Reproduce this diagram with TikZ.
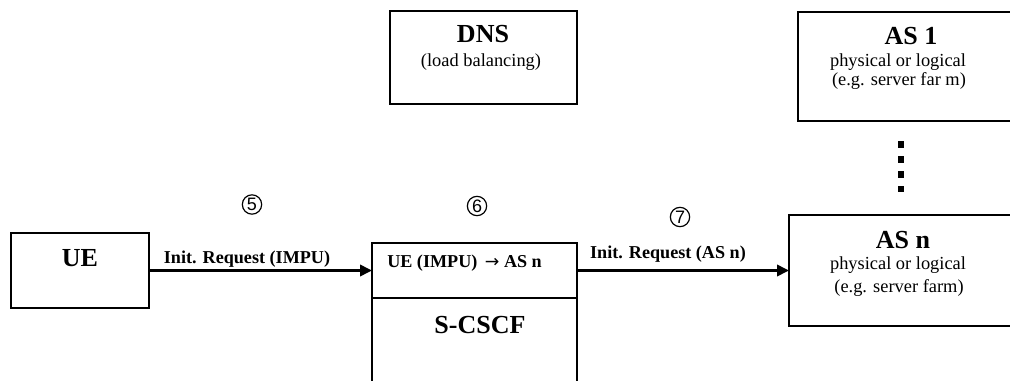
\documentclass[tikz,border=0pt]{standalone}
\usepackage{fontspec}
\setmainfont{Liberation Serif}
\setsansfont{Liberation Sans}
\newfontfamily\symfont{DejaVu Sans}
\usetikzlibrary{arrows.meta}
\begin{document}
\begin{tikzpicture}[x=0.75pt,y=-0.75pt,
  box/.style={draw,line width=1.9pt,inner sep=0pt,outer sep=0pt,anchor=north west},
  title/.style={font=\fontsize{19.5}{21}\selectfont\bfseries,inner sep=0pt},
  sub/.style={font=\fontsize{13.8}{15}\selectfont,inner sep=0pt},
  lab/.style={font=\fontsize{13.6}{15}\selectfont\bfseries,inner sep=0pt},
  num/.style={draw,circle,line width=0.9pt,minimum size=14.5pt,inner sep=0pt,
    font=\sffamily\fontsize{13.5}{14}\selectfont},
  msg/.style={line width=1.9pt,-{Triangle[length=9pt,width=8.5pt]}},
  dotsq/.style={fill=black,minimum size=5.2pt,inner sep=0pt}]
\useasboundingbox (0,0) rectangle (1010,381);
% boxes
\node[box,minimum width=103.5pt,minimum height=56.25pt] (ue) at (11,233) {};
\node[box,minimum width=140.25pt,minimum height=69.75pt] (dns) at (390,11) {};
\node[box,minimum width=162.75pt,minimum height=81.75pt] (as1) at (798,12) {};
\node[box,minimum width=169.5pt,minimum height=83.25pt] (asn) at (789,215) {};
\node[box,minimum width=153.75pt,minimum height=41.25pt] (rule) at (372,243) {};
\node[box,minimum width=153.75pt,minimum height=69pt] (scscf) at (372,298) {};
% texts
\node[title] (uet) at (80,258) {UE};
\node[title] (dnst) at (483,34) {DNS};
\node[sub] (dnss) at (481,62) {(load balancing)};
\node[title] (as1t) at (911,36) {AS 1};
\node[sub] (as1s) at (898,62) {physical or logical};
\node[sub] (as1e) at (899,81) {(e.g. server far m)};
\node[title] (asnt) at (903,240) {AS n};
\node[sub] (asns) at (898,265) {physical or logical};
\node[sub] (asne) at (899,288) {(e.g. server farm)};
\node[lab,anchor=west] (rulet) at (387,263) {UE (IMPU)\, {\symfont\mdseries\fontsize{13}{14}\selectfont →} AS n};
\node[title] (scscft) at (480,325) {S-CSCF};
% connectors
\draw[msg] (ue.east) -- (rule.west);
\draw[msg] (rule.east) -- (asn.west);
\node[lab] (l1) at (247,259) {Init. Request (IMPU)};
\node[lab] (l2) at (668,254) {Init. Request (AS n)};
\node[num] (n5) at (252,204.5) {5};
\node[num] (n6) at (477,206) {6};
\node[num] (n7) at (680,217) {7};
% dots
\node[dotsq] (d1) at (901,144.5) {};
\node[dotsq] (d2) at (901,159.5) {};
\node[dotsq] (d3) at (901,174.5) {};
\node[dotsq] (d4) at (901,189) {};
\end{tikzpicture}
\end{document}
